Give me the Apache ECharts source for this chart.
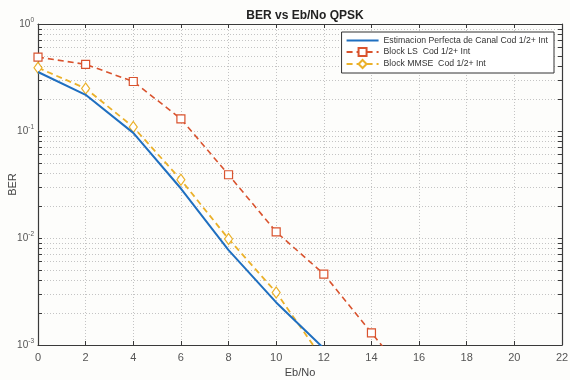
<!DOCTYPE html>
<html>
<head>
<meta charset="utf-8">
<script src="https://cdn.jsdelivr.net/npm/echarts@6/dist/echarts.min.js"></script>
<style>
  html, body { margin: 0; padding: 0; background: #fdfdfb; }
  #chart { width: 570px; height: 380px; }
</style>
</head>
<body>
<div id="chart"></div>
<script>
// Eb/No sample points (dB)
const ebno = [0, 2, 4, 6, 8, 10, 12, 14, 16];

// BER curves, QPSK with rate 1/2 coding + interleaving
const berPerfect = [0.356, 0.218, 0.096, 0.029, 0.0077, 0.0025, 0.00093];
const berLS      = [0.49, 0.42, 0.29, 0.13, 0.039, 0.0114, 0.0046, 0.0013, 0.00037];
const berMMSE    = [0.39, 0.25, 0.109, 0.035, 0.0098, 0.0031, 0.00072];

const seriesNames = [
  'Estimacion Perfecta de Canal Cod 1/2+ Int',
  'Block LS  Cod 1/2+ Int',
  'Block MMSE  Cod 1/2+ Int'
];

// Axis ticks
const xTicks = [0, 2, 4, 6, 8, 10, 12, 14, 16, 18, 20, 22];
const yDecades = [0.001, 0.01, 0.1, 1];
const yMinor = [];
for (const d of [0.001, 0.01, 0.1]) {
  for (let k = 2; k <= 9; k++) yMinor.push(+(d * k).toPrecision(3));
}

const font = 'Liberation Sans, Arial, sans-serif';
const axisColor = '#3a3a3a';
const gridColor = '#c4c4c4';

function pairs(vals) {
  return vals.map((v, i) => [ebno[i], v]);
}

const chart = echarts.init(document.getElementById('chart'), null, { renderer: 'canvas' });

const decadeLabel = v => {
  const e = Math.round(Math.log10(v));
  return '{b|10}{s|' + e + '}';
};

chart.setOption({
  backgroundColor: '#fdfdfb',
  animation: false,
  title: {
    text: 'BER vs Eb/No QPSK',
    left: 300, top: 5, textAlign: 'center',
    textStyle: { fontFamily: font, fontSize: 12, fontWeight: 'bold', color: '#222' }
  },
  grid: { left: 38, right: 8, top: 24, bottom: 35, containLabel: false, outerBoundsMode: 'none' },
  legend: {
    orient: 'vertical',
    right: 16, top: 32,
    itemWidth: 32, itemHeight: 10, itemGap: 2,
    padding: [4, 6, 4, 4],
    borderColor: '#333', borderWidth: 1,
    backgroundColor: '#ffffff',
    textStyle: { fontFamily: font, fontSize: 8.7, color: '#333' },
    data: [
      { name: seriesNames[0], itemStyle: { opacity: 0 } },
      { name: seriesNames[1] },
      { name: seriesNames[2] }
    ]
  },
  xAxis: [{
    type: 'value', min: 0, max: 22, interval: 2,
    name: 'Eb/No', nameLocation: 'middle', nameGap: 22,
    nameTextStyle: { fontFamily: font, fontSize: 11, color: '#444' },
    axisLine: { show: true, onZero: false, lineStyle: { color: axisColor, width: 1.2 } },
    axisTick: { show: true, inside: true, length: 4, lineStyle: { color: axisColor } },
    axisLabel: { fontFamily: font, fontSize: 11, color: '#555', margin: 7,
      customValues: xTicks },
    splitLine: { show: true, lineStyle: { color: gridColor, type: [1, 2], width: 1 } }
  }, {
    type: 'value', min: 0, max: 22, interval: 2, position: 'top',
    axisLine: { show: true, onZero: false, lineStyle: { color: axisColor, width: 1.2 } },
    axisTick: { show: true, inside: true, length: 4, lineStyle: { color: axisColor } },
    axisLabel: { show: false },
    splitLine: { show: false }
  }],
  yAxis: [{
    type: 'log', logBase: 10, min: 0.001, max: 1,
    name: 'BER', nameLocation: 'middle', nameGap: 20, nameRotate: 90,
    nameMoveOverlap: false,
    nameTextStyle: { fontFamily: font, fontSize: 11, color: '#444' },
    axisLine: { show: true, onZero: false, lineStyle: { color: axisColor, width: 1.2 } },
    axisTick: { show: true, inside: true, length: 4, lineStyle: { color: axisColor },
      customValues: yDecades.concat(yMinor) },
    axisLabel: {
      fontFamily: font, fontSize: 10, color: '#555', margin: 4,
      customValues: yDecades,
      formatter: decadeLabel,
      rich: {
        b: { fontFamily: font, fontSize: 10, color: '#555' },
        s: { fontFamily: font, fontSize: 6.5, color: '#555', verticalAlign: 'top', padding: [0, 0, 7, 0] }
      }
    },
    splitLine: { show: true, lineStyle: { color: gridColor, type: [1, 2], width: 1 } }
  }, {
    type: 'log', logBase: 10, min: 0.001, max: 1, position: 'right',
    axisLine: { show: true, onZero: false, lineStyle: { color: axisColor, width: 1.2 } },
    axisTick: { show: true, inside: true, length: 4, lineStyle: { color: axisColor },
      customValues: yDecades.concat(yMinor) },
    axisLabel: { show: false },
    splitLine: { show: false }
  }],
  series: [{
    name: seriesNames[0],
    type: 'line',
    data: pairs(berPerfect),
    symbol: 'none',
    clip: true,
    lineStyle: { color: '#1f6fc0', width: 2 },
    itemStyle: { color: '#1f6fc0' },
    z: 4
  }, {
    name: seriesNames[1],
    type: 'line',
    data: pairs(berLS),
    symbol: 'rect', symbolSize: 8,
    clip: true,
    showAllSymbol: true,
    lineStyle: { color: '#d9532e', width: 1.6, type: [6, 4] },
    itemStyle: { color: '#ffffff', borderColor: '#d9532e', borderWidth: 1.2 },
    z: 3
  }, {
    name: seriesNames[2],
    type: 'line',
    data: pairs(berMMSE),
    symbol: 'diamond', symbolSize: [8, 11],
    clip: true,
    lineStyle: { color: '#ebb12a', width: 1.8, type: [6, 4] },
    itemStyle: { color: '#ffffff', borderColor: '#ebb12a', borderWidth: 1.2 },
    z: 3
  }]
});
</script>
</body>
</html>
